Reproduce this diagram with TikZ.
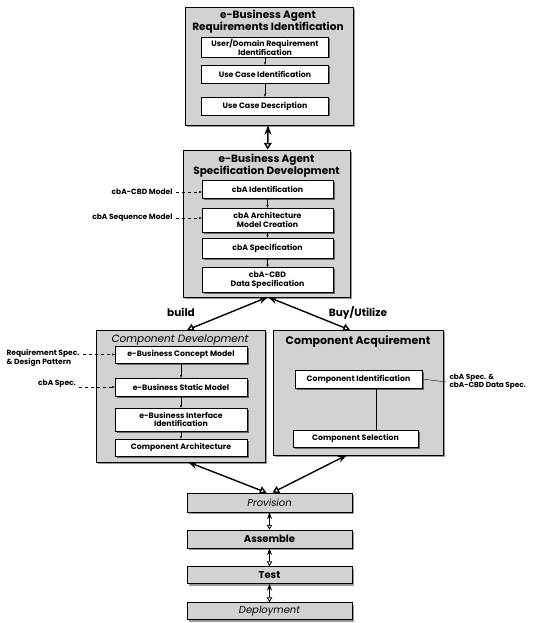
\documentclass[tikz,border=0pt]{standalone}
\usepackage{fontspec}
\setsansfont{Poppins}
\usetikzlibrary{shadows,arrows.meta}

\begin{document}
\begin{tikzpicture}[x=1pt,y=-1pt,
  phase/.style={draw,thick,fill=gray!35,drop shadow={shadow xshift=2pt,shadow yshift=-2pt,fill=black!80}},
  task/.style={draw,fill=white,align=center,inner sep=0.5pt,font=\sffamily\bfseries\fontsize{7.8}{8.3}\selectfont,
    drop shadow={shadow xshift=1.5pt,shadow yshift=-1.5pt,fill=black}},
  title/.style={align=center,font=\sffamily\bfseries\fontsize{10.5}{11}\selectfont},
  note/.style={align=left,font=\sffamily\bfseries\fontsize{7.5}{8.5}\selectfont},
  stage/.style={phase,minimum width=165pt,font=\sffamily\bfseries\fontsize{10}{10}\selectfont},
  flow/.style={line width=1.4pt,{Stealth}-{Triangle[open]}},
  nextstep/.style={thin,-{Stealth[length=3pt]}}]
\useasboundingbox (0,0) rectangle (550,623);

% requirements identification
\node[phase,minimum width=168pt,minimum height=118pt] (req) at (269,66) {};
\node[title] (reqtitle) at (268,21.5) {e-Business Agent\\Requirements Identification};
\node[task,minimum width=127pt,minimum height=20pt] (usr) at (265,47) {User/Domain Requirement\\Identification};
\node[task,minimum width=127pt,minimum height=18pt] (uci) at (265,74) {Use Case Identification};
\node[task,minimum width=127pt,minimum height=18pt] (ucd) at (265,106) {Use Case Description};
\draw[nextstep] (usr) -- (uci);
\draw[nextstep] (uci) -- (ucd);

% specification development
\node[phase,minimum width=167pt,minimum height=147pt] (spec) at (266.5,223.5) {};
\node[title] (spectitle) at (266.5,165.5) {e-Business Agent\\Specification Development};
\node[task,minimum width=131pt,minimum height=18pt] (cbaid) at (267.5,189) {cbA Identification};
\node[task,minimum width=131pt,minimum height=24pt] (cbaarch) at (267.5,220) {cbA Architecture\\Model Creation};
\node[task,minimum width=131pt,minimum height=20pt] (cbaspec) at (267.5,248) {cbA Specification};
\node[task,minimum width=131pt,minimum height=25pt] (cbadata) at (267.5,280) {cbA-CBD\\Data Specification};
\draw[nextstep] (cbaid) -- (cbaarch);
\draw[nextstep] (cbaarch) -- (cbaspec);
\draw[nextstep] (cbaspec) -- (cbadata);
\node[note,anchor=east] (cbdmodel) at (176,192) {cbA-CBD Model};
\node[note,anchor=east] (seqmodel) at (176,218) {cbA Sequence Model};
\draw[nextstep,dashed] (cbdmodel) -- (cbdmodel -| cbaid.west);
\draw[nextstep,dashed] (seqmodel) -- (seqmodel -| cbaarch.west);

\draw[flow] (req) -- (spec);

% component development
\node[phase,minimum width=169pt,minimum height=132pt] (dev) at (180.5,396) {};
\node[title,font=\sffamily\itshape\fontsize{10.5}{11}\selectfont] (devtitle) at (180,340) {Component Development};
\node[task,minimum width=132pt,minimum height=17pt] (concept) at (181,354.5) {e-Business Concept Model};
\node[task,minimum width=132pt,minimum height=18pt] (static) at (181,387) {e-Business Static Model};
\node[task,minimum width=132pt,minimum height=23pt] (iface) at (181,419.5) {e-Business Interface\\Identification};
\node[task,minimum width=132pt,minimum height=17pt] (carch) at (181,447.5) {Component Architecture};
\draw[nextstep] (concept) -- (static);
\draw[nextstep] (static) -- (iface);
\draw[nextstep] (iface) -- (carch);
\node[note] (reqspec) at (43,358) {Requirement Spec.\\\& Design Pattern};
\node[note] (cbaspecnote) at (57,384) {cbA Spec.};
\draw[nextstep,dashed] (reqspec.east |- concept) -- (concept.west);
\draw[nextstep,dashed] (cbaspecnote.east |- static) -- (static.west);

% component acquirement
\node[phase,minimum width=170pt,minimum height=125pt] (acq) at (358,392.5) {};
\node[title,font=\sffamily\bfseries\fontsize{11}{11}\selectfont] (acqtitle) at (358,342) {Component Acquirement};
\node[task,minimum width=127pt,minimum height=18pt] (compid) at (358.5,379) {Component Identification};
\node[task,minimum width=125pt,minimum height=17pt] (compsel) at (355.5,438.5) {Component Selection};
\draw ([xshift=18pt]compid.south) -- ([xshift=21pt]compsel.north);
\node[note,anchor=west,font=\sffamily\bfseries\fontsize{7.3}{8.3}\selectfont] (specnote) at (446,382) {cbA Spec. \&\\cbA-CBD Data Spec.};
\draw (compid.east) -- (specnote.west);

% build or buy
\coordinate (split) at (268,297);
\draw[flow] (split) -- (187,330);
\draw[flow] (split) -- (350,330);
\node[font=\sffamily\bfseries\fontsize{10.5}{11}\selectfont] (build) at (181,312) {build};
\node[font=\sffamily\bfseries\fontsize{10.5}{11}\selectfont] (buy) at (358,313) {Buy/Utilize};

% delivery
\node[stage,minimum height=19pt,font=\sffamily\itshape\fontsize{10}{10}\selectfont] (prov) at (269.5,502.5) {Provision};
\node[stage,minimum height=18pt] (asm) at (269.5,539) {Assemble};
\node[stage,minimum height=17pt] (test) at (269.5,575) {Test};
\node[stage,minimum height=17pt,font=\sffamily\itshape\fontsize{10}{10}\selectfont] (depl) at (269.5,611) {Deployment};
\draw[flow] (188,462) -- ([xshift=-3pt]prov.north);
\draw[flow] (347,455) -- ([xshift=3pt]prov.north);
\draw[flow,line width=0.8pt] (prov) -- (asm);
\draw[flow,line width=0.8pt] (asm) -- (test);
\draw[flow,line width=0.8pt] (test) -- (depl);
\end{tikzpicture}
\end{document}
